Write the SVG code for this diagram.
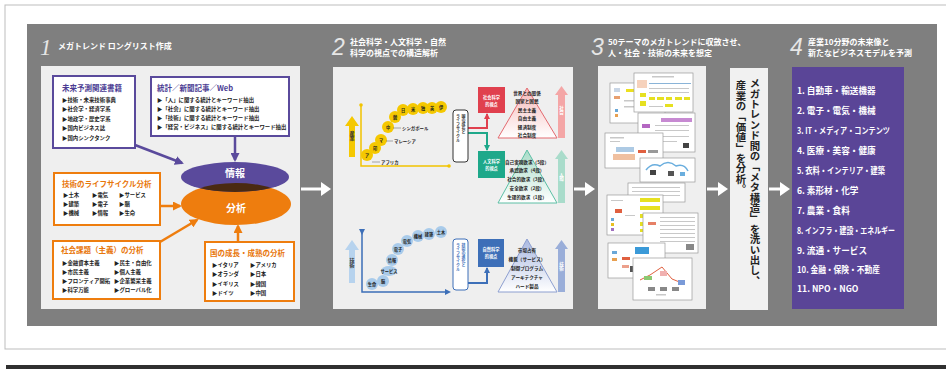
<svg xmlns="http://www.w3.org/2000/svg" width="946" height="370" viewBox="0 0 946 370">
<style>
.jp{font-family:"Noto Sans CJK JP","Noto Sans",sans-serif}
.ttl{font-family:"Noto Sans CJK JP",sans-serif;font-size:8px;font-weight:bold;fill:#fff}
.num{font-family:"Liberation Sans",sans-serif;font-style:italic;font-size:23px;fill:#e6e6e6}
.bt{font-family:"Noto Sans CJK JP",sans-serif;font-size:7.5px;font-weight:bold}
.it{font-family:"Noto Sans CJK JP",sans-serif;font-size:5.4px;font-weight:bold;fill:#222}
.pt{font-family:"Noto Sans CJK JP",sans-serif;font-size:4.6px;font-weight:bold;fill:#222;text-anchor:middle}
.ct{font-family:"Noto Sans CJK JP",sans-serif;font-size:4.2px;font-weight:bold;fill:#222;text-anchor:middle}
.lst{font-family:"Noto Sans CJK JP",sans-serif;font-size:8.6px;font-weight:bold;fill:#fff}
.vt{font-family:"Noto Sans CJK JP",sans-serif;font-size:10.4px;font-weight:bold;fill:#222;writing-mode:vertical-rl}
.vs{font-family:"Noto Sans CJK JP",sans-serif;font-size:4px;font-weight:bold;fill:#333;writing-mode:vertical-rl}
.light{fill:#efefef}
.thumb{fill:#fff;stroke:#9a9a9a;stroke-width:0.7}
.tl{fill:#c8c8c8}
</style>
<defs>
<marker id="mP" markerUnits="userSpaceOnUse" markerWidth="9" markerHeight="9" refX="7" refY="4.5" orient="auto"><path d="M0,0 L9,4.5 L0,9 z" fill="#5a4a9c"/></marker>
<marker id="mO" markerUnits="userSpaceOnUse" markerWidth="9" markerHeight="9" refX="7" refY="4.5" orient="auto"><path d="M0,0 L9,4.5 L0,9 z" fill="#ee7d0e"/></marker>
<marker id="mR" markerUnits="userSpaceOnUse" markerWidth="6" markerHeight="6" refX="5" refY="3" orient="auto"><path d="M0,0 L6,3 L0,6 z" fill="#e0404e"/></marker>
<marker id="mT" markerUnits="userSpaceOnUse" markerWidth="6" markerHeight="6" refX="5" refY="3" orient="auto"><path d="M0,0 L6,3 L0,6 z" fill="#1ea88a"/></marker>
<marker id="mB" markerUnits="userSpaceOnUse" markerWidth="6" markerHeight="6" refX="5" refY="3" orient="auto"><path d="M0,0 L6,3 L0,6 z" fill="#3d6fb8"/></marker>
<marker id="dY" markerUnits="userSpaceOnUse" markerWidth="4" markerHeight="4" refX="2" refY="2"><circle cx="2" cy="2" r="1.8" fill="#f2c400"/></marker>
<marker id="dB" markerUnits="userSpaceOnUse" markerWidth="6" markerHeight="6" refX="3" refY="3" orient="auto"><path d="M0,0 L6,3 L0,6 z" fill="#3d6fb8"/></marker>
<linearGradient id="gR" x1="0" y1="0" x2="0" y2="1"><stop offset="0" stop-color="#f6b8b8"/><stop offset="1" stop-color="#ffffff"/></linearGradient>
<linearGradient id="gT" x1="0" y1="0" x2="0" y2="1"><stop offset="0" stop-color="#a8dcc8"/><stop offset="1" stop-color="#ffffff"/></linearGradient>
<linearGradient id="gB" x1="0" y1="0" x2="0" y2="1"><stop offset="0" stop-color="#a9b8e0"/><stop offset="1" stop-color="#ffffff"/></linearGradient>
<clipPath id="cO"><ellipse cx="236" cy="204" rx="55" ry="21"/></clipPath>
</defs>

<!-- page frame -->
<rect x="5" y="5" width="960" height="344" fill="#fff" stroke="#bdbdbd" stroke-width="1"/>
<rect x="6" y="365" width="940" height="4" fill="#303030"/>
<rect x="27" y="24" width="910" height="302" fill="#7f7f7f"/>

<!-- panel headers -->
<g id="header1"><text class="num" x="40" y="55" style="font-family:'Liberation Serif',serif">1</text><text class="ttl" x="58" y="49">メガトレンド ロングリスト作成</text></g>
<g id="header2"><text class="num" x="332" y="55">2</text><text class="ttl" x="350" y="45">社会科学・人文科学・自然</text><text class="ttl" x="350" y="56">科学の視点での構造解析</text></g>
<g id="header3"><text class="num" x="591" y="55">3</text><text class="ttl" x="608" y="45">50テーマのメガトレンドに収斂させ、</text><text class="ttl" x="608" y="56">人・社会・技術の未来を想定</text></g>
<g id="header4"><text class="num" x="790" y="55">4</text><text class="ttl" x="808" y="45">産業10分野の未来像と</text><text class="ttl" x="808" y="56">新たなビジネスモデルを予測</text></g>

<!-- panel backgrounds -->
<rect class="light" x="41" y="66" width="259" height="243"/>
<rect class="light" x="333" y="67" width="240" height="242"/>
<rect class="light" x="598" y="66" width="108" height="243"/>
<rect x="730" y="68" width="38" height="242" fill="#f1f1f1"/>
<rect x="792" y="67" width="112" height="242" fill="#5a4597"/>

<!-- connectors -->
<g id="connectors" fill="none">
<line x1="135" y1="145" x2="182" y2="163" stroke="#5a4a9c" stroke-width="2.5" marker-end="url(#mP)"/>
<line x1="235" y1="136" x2="235" y2="160" stroke="#5a4a9c" stroke-width="2.5" marker-end="url(#mP)"/>
<line x1="160" y1="206" x2="180" y2="206" stroke="#ee7d0e" stroke-width="2.5" marker-end="url(#mO)"/>
<line x1="160" y1="242" x2="197" y2="220" stroke="#ee7d0e" stroke-width="2.5" marker-end="url(#mO)"/>
<line x1="238" y1="242" x2="238" y2="226" stroke="#ee7d0e" stroke-width="2.5" marker-end="url(#mO)"/>
<polyline points="468,128 487,128 487,114" stroke="#e0404e" stroke-width="2" marker-end="url(#mR)"/>
<polyline points="468,133 487,133 487,150" stroke="#1ea88a" stroke-width="2" marker-end="url(#mT)"/>
<polyline points="468,283 487,283 487,268" stroke="#3d6fb8" stroke-width="2" marker-end="url(#mB)"/>
<g fill="#fff" stroke="none">
<rect x="301" y="187.5" width="22" height="3"/><polygon points="321,182 331,189 321,196"/>
<rect x="574" y="187.5" width="13" height="3"/><polygon points="585,182 595,189 585,196"/>
<rect x="707" y="187.5" width="13" height="3"/><polygon points="718,182 728,189 718,196"/>
<rect x="769" y="187.5" width="13" height="3"/><polygon points="780,182 790,189 780,196"/>
</g>
</g>

<!-- panel 1 nodes -->
<g id="books">
<rect x="53" y="76" width="82" height="72" fill="#fff" stroke="#5a4a9c" stroke-width="2"/>
<text class="bt" x="62" y="91" fill="#4b3c93">未来予測関連書籍</text>
<text class="it" x="62" y="102">▶技術・未来技術事典</text>
<text class="it" x="62" y="111">▶社会学・経済学系</text>
<text class="it" x="62" y="121">▶地政学・歴史学系</text>
<text class="it" x="62" y="130">▶国内ビジネス誌</text>
<text class="it" x="62" y="140">▶国内シンクタンク</text>
</g>
<g id="stats">
<rect x="151" y="77" width="138" height="59" fill="#fff" stroke="#5a4a9c" stroke-width="2"/>
<text class="bt" x="157" y="91" fill="#4b3c93">統計／新聞記事／Web</text>
<text class="it" x="157" y="102">▶「人」に関する統計とキーワード抽出</text>
<text class="it" x="157" y="111">▶「社会」に関する統計とキーワード抽出</text>
<text class="it" x="157" y="120">▶「技術」に関する統計とキーワード抽出</text>
<text class="it" x="157" y="129">▶「経営・ビジネス」に関する統計とキーワード抽出</text>
</g>
<g id="lifecycle">
<rect x="54" y="173" width="106" height="52" fill="#fff" stroke="#ee7d0e" stroke-width="2"/>
<text class="bt" x="62" y="187" fill="#e8760a">技術のライフサイクル分析</text>
<text class="it" x="63" y="197">▶土木</text><text class="it" x="92" y="197">▶電気</text><text class="it" x="119" y="197">▶サービス</text>
<text class="it" x="63" y="206">▶建築</text><text class="it" x="92" y="206">▶電子</text><text class="it" x="119" y="206">▶脳</text>
<text class="it" x="63" y="215">▶機械</text><text class="it" x="92" y="215">▶情報</text><text class="it" x="119" y="215">▶生命</text>
</g>
<g id="social">
<rect x="53" y="241" width="107" height="58" fill="#fff" stroke="#ee7d0e" stroke-width="2"/>
<text class="bt" x="61" y="253" fill="#e8760a">社会課題（主義）の分析</text>
<text class="it" x="62" y="265">▶金融資本主義</text><text class="it" x="114" y="265">▶民主・自由化</text>
<text class="it" x="62" y="274">▶市民主義</text><text class="it" x="114" y="274">▶個人主義</text>
<text class="it" x="62" y="283">▶フロンティア開拓</text><text class="it" x="114" y="283">▶企業繁栄主義</text>
<text class="it" x="62" y="292">▶科学万能</text><text class="it" x="114" y="292">▶グローバル化</text>
</g>
<g id="countries">
<rect x="205" y="242" width="89" height="59" fill="#fff" stroke="#ee7d0e" stroke-width="2"/>
<text class="bt" x="210" y="256" fill="#e8760a">国の成長・成熟の分析</text>
<text class="it" x="212" y="267">▶イタリア</text><text class="it" x="250" y="267">▶アメリカ</text>
<text class="it" x="212" y="276">▶オランダ</text><text class="it" x="250" y="276">▶日本</text>
<text class="it" x="212" y="286">▶イギリス</text><text class="it" x="250" y="286">▶韓国</text>
<text class="it" x="212" y="295">▶ドイツ</text><text class="it" x="250" y="295">▶中国</text>
</g>
<g id="info-analysis">
<ellipse cx="236" cy="204" rx="55" ry="21" fill="#ee7d0e"/>
<ellipse cx="235" cy="177" rx="54" ry="15" fill="#5a4a9c"/>
<ellipse cx="235" cy="177" rx="54" ry="15" fill="#4a2a12" clip-path="url(#cO)"/>
<text class="jp" x="235" y="177" font-size="10" font-weight="bold" fill="#fff" text-anchor="middle">情報</text>
<text class="jp" x="236" y="212" font-size="10" font-weight="bold" fill="#fff" text-anchor="middle">分析</text>
</g>

<!-- panel 2 nodes -->
<g id="yellow-chart">
<polyline points="361,105 361,166 449,166" fill="none" stroke="#f2c400" stroke-width="1.5" marker-start="url(#dY)" marker-end="url(#dY)"/>
<polygon points="349,157 349,126 345,126 352,116 359,126 355,126 355,157" fill="#f5c800"/>
<text class="vs" x="352" y="131" style="font-size:5px">産業</text>
<g fill="#f5c800">
<circle cx="367" cy="155" r="6"/><circle cx="375" cy="148" r="6"/><circle cx="381" cy="140" r="6"/><circle cx="388" cy="127" r="6"/><circle cx="395" cy="117" r="6"/><circle cx="403" cy="110" r="6"/><circle cx="413" cy="109" r="6"/><circle cx="423" cy="108" r="6"/><circle cx="432" cy="108" r="6"/><circle cx="441" cy="107" r="6"/>
</g>
<text class="ct" x="367" y="156.5">ア</text><text class="ct" x="375" y="149.5">印</text><text class="ct" x="381" y="141.5">マ</text><text class="ct" x="388" y="128.5">中</text><text class="ct" x="395" y="118.5">韓</text><text class="ct" x="403" y="111.5">日</text><text class="ct" x="413" y="110.5">米</text><text class="ct" x="423" y="109.5">独</text><text class="ct" x="432" y="109.5">英</text><text class="ct" x="441" y="108.5">伊</text>
<g stroke="#555" stroke-width="0.5"><line x1="372" y1="162" x2="380" y2="162"/><line x1="386" y1="141" x2="393" y2="141"/><line x1="393" y1="128" x2="401" y2="128"/></g>
<text class="it" x="381" y="164" style="font-size:4.4px">アフリカ</text>
<text class="it" x="394" y="143" style="font-size:4.4px">マレーシア</text>
<text class="it" x="402" y="130" style="font-size:4.4px">シンガポール</text>
</g>
<g id="nation-cycle">
<rect x="453" y="110" width="15" height="52" rx="3" fill="#fff" stroke="#333" stroke-width="1"/>
<text class="vs" x="463.5" y="114">国の成長と</text><text class="vs" x="458" y="114">ライフサイクル</text>
</g>
<g id="social-view">
<rect x="478" y="87" width="27" height="26" fill="#e0404e"/>
<text class="ct" x="491.5" y="99" style="fill:#fff">社会科学</text><text class="ct" x="491.5" y="106" style="fill:#fff">的視点</text>
</g>
<g id="human-view">
<rect x="478" y="151" width="27" height="27" fill="#1ea88a"/>
<text class="ct" x="491.5" y="163" style="fill:#fff">人文科学</text><text class="ct" x="491.5" y="170" style="fill:#fff">的視点</text>
</g>
<g id="social-pyramid">
<polygon points="527,88 498,138 557,138" fill="url(#gR)" stroke="#e36a70" stroke-width="1"/>
<text class="pt" x="527" y="95">世界との関係</text><text class="pt" x="527" y="103">国家と国民</text><text class="pt" x="527" y="112">民主主義</text><text class="pt" x="527" y="120">自由主義</text><text class="pt" x="527" y="129">経済制度</text><text class="pt" x="527" y="137">社会制度</text>
<polygon points="558,138 558,95 555,95 561.5,86 568,95 565,95 565,138" fill="#f4a6a6"/>
<text class="vs" x="561.5" y="106" style="fill:#fff;font-size:4.5px">社会</text>
</g>
<g id="human-pyramid">
<polygon points="527,150 498,203 557,203" fill="url(#gT)" stroke="#5cbfa5" stroke-width="1"/>
<text class="pt" x="527" y="164">自己実現欲求（5段）</text><text class="pt" x="527" y="172">承認欲求（4段）</text><text class="pt" x="527" y="181">社会的欲求（3段）</text><text class="pt" x="527" y="190">安全欲求（2段）</text><text class="pt" x="527" y="199">生理的欲求（1段）</text>
<polygon points="558,203 558,159 555,159 561.5,150 568,159 565,159 565,203" fill="#a9dccb"/>
<text class="vs" x="561.5" y="172" style="fill:#fff;font-size:4.5px">人間</text>
</g>
<g id="blue-chart">
<polyline points="362,232 362,292 448,292" fill="none" stroke="#3d6fb8" stroke-width="1.5" marker-start="url(#dB)" marker-end="url(#dB)"/>
<polygon points="349,283 349,250 345,250 352,240 359,250 355,250 355,283" fill="#b7d3ee"/>
<text class="vs" x="352" y="258" style="font-size:5px">技術</text>
<g fill="#a9cbea">
<circle cx="372" cy="284" r="6"/><circle cx="383" cy="281" r="6"/><ellipse cx="389" cy="271" rx="8" ry="5"/><circle cx="392" cy="260" r="6"/><circle cx="398" cy="249" r="6"/><circle cx="407" cy="241" r="6"/><circle cx="418" cy="236" r="6"/><circle cx="429" cy="234" r="6"/><circle cx="441" cy="232" r="6"/>
</g>
<text class="ct" x="372" y="285.5">生命</text><text class="ct" x="383" y="282.5">脳</text><text class="ct" x="389" y="272.5">サービス</text><text class="ct" x="392" y="261.5">情報</text><text class="ct" x="398" y="250.5">電子</text><text class="ct" x="407" y="242.5">電気</text><text class="ct" x="418" y="237.5">機械</text><text class="ct" x="429" y="235.5">建築</text><text class="ct" x="441" y="233.5">土木</text>
</g>
<g id="tech-cycle">
<rect x="453" y="239" width="15" height="51" rx="3" fill="#fff" stroke="#3d6fb8" stroke-width="1"/>
<text class="vs" x="463.5" y="243" style="fill:#3d6fb8">技術の進化と</text><text class="vs" x="458" y="243" style="fill:#3d6fb8">ライフサイクル</text>
</g>
<g id="nature-view">
<rect x="478" y="239" width="26" height="28" fill="#3d6fb8"/>
<text class="ct" x="491" y="251" style="fill:#fff">自然科学</text><text class="ct" x="491" y="258" style="fill:#fff">的視点</text>
</g>
<g id="tech-pyramid">
<polygon points="527,239 498,292 557,292" fill="url(#gB)" stroke="#8d9fd0" stroke-width="1"/>
<text class="pt" x="527" y="252">市場占有</text><text class="pt" x="527" y="261">機能（サービス）</text><text class="pt" x="527" y="270">制御プログラム</text><text class="pt" x="527" y="279">アーキテクチャ</text><text class="pt" x="527" y="288">ハード製品</text>
<polygon points="558,292 558,249 555,249 561.5,240 568,249 565,249 565,292" fill="#9aaed9"/>
<text class="vs" x="561.5" y="262" style="fill:#fff;font-size:4.5px">技術</text>
</g>

<!-- panel 3 collage -->
<g id="collage">
<rect class="thumb" x="610" y="83" width="55" height="40"/>
<rect x="614" y="88" width="6" height="4" fill="#c9d6e6"/><rect x="626" y="89" width="12" height="3" fill="#ece020"/><rect x="614" y="96" width="6" height="3" fill="#e8a070"/><rect x="615" y="109" width="3" height="3" fill="#6aa8d8"/><rect x="615" y="114" width="3" height="3" fill="#e8a050"/>
<rect class="tl" x="624" y="100" width="10" height="1.5"/><rect class="tl" x="624" y="106" width="14" height="1.5"/>
<rect class="thumb" x="634" y="73" width="59" height="39"/>
<rect class="tl" x="652" y="76" width="22" height="1.5"/><rect x="637" y="80" width="10" height="8" fill="#f6d2bc"/>
<rect x="649" y="83" width="42" height="1" fill="#8ab4d8"/>
<g fill="#e6e020"><rect x="649" y="97" width="6" height="3"/><rect x="657" y="97" width="7" height="3"/><rect x="666" y="97" width="6" height="3"/><rect x="675" y="97" width="7" height="3"/><rect x="684" y="97" width="6" height="3"/><rect x="640" y="93" width="6" height="4"/><rect x="640" y="101" width="6" height="5"/><rect x="665" y="104" width="8" height="3"/></g>
<g class="tl"><rect x="649" y="88" width="40" height="1"/><rect x="649" y="92" width="40" height="1"/><rect x="649" y="106" width="14" height="1"/></g>
<rect class="thumb" x="638" y="113" width="57" height="39"/>
<rect x="661" y="118" width="31" height="4" fill="#c78ad2"/><rect x="642" y="124" width="8" height="4" fill="#b467c2"/><rect x="644" y="133" width="6" height="3" fill="#c78ad2"/>
<g class="tl"><rect x="655" y="125" width="34" height="1"/><rect x="655" y="130" width="34" height="1"/><rect x="655" y="136" width="34" height="1"/><rect x="655" y="141" width="22" height="1"/></g>
<rect x="683" y="143" width="6" height="5" fill="#444"/>
<rect class="thumb" x="605" y="133" width="58" height="35"/>
<g class="tl"><rect x="610" y="137" width="14" height="1.5"/><rect x="610" y="141" width="10" height="1"/></g>
<rect x="616" y="147" width="18" height="5" fill="#8ab4d8" opacity="0.7"/><rect x="613" y="154" width="22" height="6" fill="#f0c0a0"/><rect x="638" y="150" width="8" height="3" fill="#e06040"/><rect x="648" y="150" width="10" height="3" fill="#999"/>
<rect class="thumb" x="640" y="158" width="55" height="24"/>
<path d="M646,170 q6,-8 14,-4 q8,-7 16,0 q8,-3 12,5" fill="none" stroke="#6aaede" stroke-width="1.5"/>
<rect x="650" y="170" width="6" height="5" fill="#444"/><rect x="668" y="171" width="6" height="5" fill="#555"/><rect x="680" y="172" width="5" height="4" fill="#6aaede"/>
<rect class="thumb" x="628" y="183" width="57" height="19"/>
<g class="tl"><rect x="632" y="187" width="48" height="1"/><rect x="632" y="191" width="48" height="1"/><rect x="632" y="195" width="48" height="1"/></g>
<rect class="thumb" x="607" y="195" width="56" height="40"/>
<g fill="#e6e020"><rect x="640" y="198" width="20" height="4"/><rect x="640" y="206" width="20" height="4"/><rect x="640" y="214" width="20" height="4"/><rect x="640" y="222" width="20" height="4"/><rect x="640" y="229" width="14" height="3"/></g>
<rect x="615" y="209" width="7" height="4" fill="#e06040"/><rect x="611" y="218" width="3" height="3" fill="#6aa8d8"/><rect x="611" y="223" width="3" height="3" fill="#e8c020"/><rect x="611" y="228" width="3" height="3" fill="#a070c0"/>
<g class="tl"><rect x="611" y="200" width="12" height="1"/><rect x="625" y="215" width="10" height="1"/></g>
<rect class="thumb" x="643" y="213" width="55" height="40"/>
<g class="tl"><rect x="660" y="217" width="35" height="1"/><rect x="660" y="221" width="35" height="1"/><rect x="660" y="225" width="35" height="1"/><rect x="660" y="229" width="35" height="1"/><rect x="660" y="233" width="35" height="1"/><rect x="660" y="237" width="35" height="1"/><rect x="660" y="241" width="35" height="1"/></g>
<rect x="648" y="222" width="8" height="3" fill="#e06040" opacity="0.8"/><rect x="686" y="244" width="8" height="6" fill="#888"/>
<rect class="thumb" x="608" y="243" width="57" height="35"/>
<rect x="635" y="247" width="14" height="7" fill="#3b9ad8"/><rect x="612" y="251" width="5" height="3" fill="#6aa8d8"/><rect x="612" y="258" width="5" height="3" fill="#e8a050"/><rect x="622" y="257" width="8" height="3" fill="#e06040"/><rect x="622" y="265" width="7" height="3" fill="#e06040" opacity="0.6"/><rect x="630" y="266" width="6" height="6" fill="#555"/>
<rect class="thumb" x="633" y="258" width="59" height="42"/>
<polyline points="640,280 650,275 662,267 672,279 682,283" fill="none" stroke="#e06040" stroke-width="1"/>
<rect x="644" y="276" width="8" height="4" fill="#8cc870"/><rect x="660" y="271" width="7" height="5" fill="#f0b0b0"/><rect x="678" y="280" width="7" height="5" fill="#7a9ad8"/>
<g fill="#888"><rect x="648" y="287" width="7" height="4"/><rect x="660" y="287" width="7" height="4"/><rect x="672" y="287" width="7" height="4"/></g>
<rect class="tl" x="656" y="294" width="10" height="1.5"/>
</g>

<!-- vertical message -->
<g id="meta-structure">
<text class="vt" x="755" y="78">メガトレンド間の「メタ構造」を洗い出し、</text>
<text class="vt" x="741" y="80">産業の「価値」を分析。</text>
</g>

<!-- panel 4 list -->
<g id="industries">
<text class="lst" x="797" y="94">1. 自動車・輸送機器</text>
<text class="lst" x="797" y="114">2. 電子・電気・機械</text>
<text class="lst" x="797" y="134" textLength="93" lengthAdjust="spacingAndGlyphs">3. IT・メディア・コンテンツ</text>
<text class="lst" x="797" y="154">4. 医療・美容・健康</text>
<text class="lst" x="797" y="174" textLength="88" lengthAdjust="spacingAndGlyphs">5. 衣料・インテリア・建築</text>
<text class="lst" x="797" y="194">6. 素形材・化学</text>
<text class="lst" x="797" y="214">7. 農業・食料</text>
<text class="lst" x="797" y="234" textLength="98" lengthAdjust="spacingAndGlyphs">8. インフラ・建設・エネルギー</text>
<text class="lst" x="797" y="254">9. 流通・サービス</text>
<text class="lst" x="797" y="273" textLength="83" lengthAdjust="spacingAndGlyphs">10. 金融・保険・不動産</text>
<text class="lst" x="797" y="292">11. NPO・NGO</text>
</g>
</svg>
